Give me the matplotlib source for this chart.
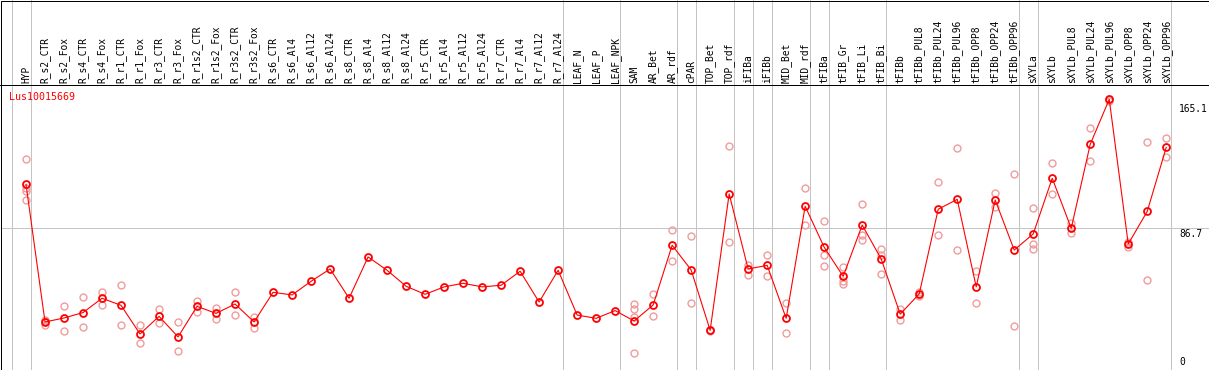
import matplotlib
matplotlib.use('Agg')
import numpy as np
import matplotlib.pyplot as plt
import matplotlib.transforms as mtransforms
from matplotlib.lines import Line2D
from matplotlib.patches import Rectangle

gene = 'Lus10015669'

labels = ['HYP', 'R_s2_CTR', 'R_s2_Fox', 'R_s4_CTR', 'R_s4_Fox', 'R_r1_CTR', 'R_r1_Fox',
          'R_r3_CTR', 'R_r3_Fox', 'R_r1s2_CTR', 'R_r1s2_Fox', 'R_r3s2_CTR', 'R_r3s2_Fox',
          'R_s6_CTR', 'R_s6_Al4', 'R_s6_Al12', 'R_s6_Al24', 'R_s8_CTR', 'R_s8_Al4',
          'R_s8_Al12', 'R_s8_Al24', 'R_r5_CTR', 'R_r5_Al4', 'R_r5_Al12', 'R_r5_Al24',
          'R_r7_CTR', 'R_r7_Al4', 'R_r7_Al12', 'R_r7_Al24', 'LEAF_N', 'LEAF_P', 'LEAF_NPK',
          'SAM', 'AR_Bet', 'AR_rdf', 'cPAR', 'TOP_Bet', 'TOP_rdf', 'iFIBa', 'iFIBb',
          'MID_Bet', 'MID_rdf', 'tFIBa', 'tFIB_Gr', 'tFIB_Li', 'tFIB_Bi', 'tFIBb',
          'tFIBb_PUL8', 'tFIBb_PUL24', 'tFIBb_PUL96', 'tFIBb_OPP8', 'tFIBb_OPP24',
          'tFIBb_OPP96', 'sXYLa', 'sXYLb', 'sXYLb_PUL8', 'sXYLb_PUL24', 'sXYLb_PUL96',
          'sXYLb_OPP8', 'sXYLb_OPP24', 'sXYLb_OPP96']

# mean expression per sample
means = [113.4, 29.8, 32.2, 35.5, 44.2, 39.9, 22.5, 33.2, 20.7, 39.3, 35.0, 40.7, 29.8,
         47.8, 46.2, 54.5, 62.0, 44.2, 69.3, 61.2, 51.5, 46.6, 51.1, 53.3, 51.1, 52.1,
         60.6, 41.9, 61.2, 34.0, 32.0, 36.7, 30.4, 40.1, 76.4, 61.4, 24.7, 107.6, 62.0,
         64.2, 32.0, 100.1, 75.2, 57.5, 88.7, 68.1, 34.6, 46.8, 98.3, 104.3, 51.1, 103.9,
         73.5, 83.3, 117.1, 86.7, 137.8, 165.1, 77.2, 97.0, 135.9]

# individual replicates (empty where only the mean is shown)
reps = [[128.6, 111.0, 109.4, 103.7], [30.8, 28.0, 30.5], [39.3, 24.1], [44.8, 26.5],
        [47.8, 39.9], [52.3, 28.0], [28.0, 16.8], [37.7, 29.0], [29.6, 12.0], [42.7, 35.7],
        [38.3, 31.6], [47.8, 33.8], [32.6, 26.3],
        [], [], [], [], [], [], [], [], [], [], [], [], [], [], [], [], [], [], [],
        [40.7, 37.7, 32.6, 10.7], [46.6, 33.4], [85.5, 66.7], [81.8, 41.1], [24.9, 24.5],
        [136.8, 78.2], [64.4, 58.3], [70.3, 57.5], [41.1, 22.9], [111.0, 88.7],
        [91.0, 70.3, 63.6], [63.4, 54.7, 52.9], [101.3, 82.7, 79.6], [74.1, 70.5, 59.0],
        [37.7, 31.2], [48.2, 45.4], [114.7, 82.5], [135.3, 73.3], [61.0, 41.1],
        [108.2, 99.7], [119.7, 27.1], [98.9, 77.2, 73.9], [126.2, 107.4], [90.2, 83.7],
        [147.7, 127.4], [165.1, 164.1], [78.6, 75.6], [139.0, 55.3], [141.4, 129.9]]

# last sample index of each tissue group
group_ends = [-1, 0, 28, 31, 34, 35, 37, 38, 39, 41, 42, 45, 52, 53, 60]

y_max = 165.1
y_ref = 86.7

W, H = 1209, 370
PX = 72 / 100.0
fig = plt.figure(figsize=(W / 100, H / 100), dpi=100)
fig.patch.set_facecolor('white')
ax_h = 369.5 - 85
ax = fig.add_axes([1 / W, 0.5 / H, 1170 / W, ax_h / H])
ax.set_xlim(-1.316, 60.25)
ax.set_ylim(0.9, 173.8)
ax.set_axis_off()

gray = '#c4c4c4'
for b in group_ends:
    ax.axvline(b + 0.24, ymin=0, ymax=369.5 / ax_h, color=gray, lw=PX, clip_on=False, zorder=1)
ax.axhline(y_ref, xmin=0, xmax=1207 / 1170, color=gray, lw=PX, clip_on=False, zorder=1)

x = np.arange(len(labels))
for i, r in enumerate(reps):
    if r:
        ax.plot([i] * len(r), r, 'o', mfc='none', mec='#f09c9c', ms=5, mew=1.0, zorder=2)
ax.plot(x, means, color='red', lw=0.8, zorder=3)
ax.plot(x, means, 'o', mfc='none', mec='red', ms=5, mew=1.3, zorder=4)

mono = 'DejaVu Sans Mono'
trans = mtransforms.blended_transform_factory(ax.transData, ax.transAxes)
for i, lab in enumerate(labels):
    ax.text(i, 1 + 2 / ax_h, lab, transform=trans, rotation=90, ha='center', va='bottom',
            fontsize=6.9, family=mono, clip_on=False)

ax.text(8.3 / 1170, (369.5 - 92) / ax_h, gene, transform=ax.transAxes, color='red',
        fontsize=7.2, family=mono, ha='left', va='top')

for val, dy, va in [(y_max, -3.4, 'top'), (y_ref, -0.5, 'top'), (0, 3.0, 'bottom')]:
    ax.annotate(('%g' % val), xy=(1, val), xycoords=('axes fraction', 'data'),
                xytext=(5.8, dy), textcoords='offset points', ha='left', va=va,
                fontsize=6.9, family=mono, annotation_clip=False)

fig.add_artist(Line2D([0, 1], [(H - 85) / H] * 2, transform=fig.transFigure,
                      color='black', lw=PX))
fig.add_artist(Rectangle((1.0 / W, 0.5 / H), 1207.5 / W, 369 / H, transform=fig.transFigure,
                         fill=False, ec='black', lw=PX))

fig.savefig('out.png', dpi=100)
